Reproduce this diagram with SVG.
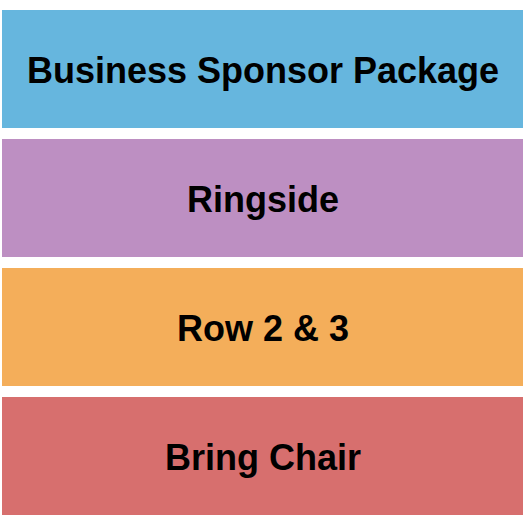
<svg xmlns="http://www.w3.org/2000/svg" width="525" height="525" viewBox="0 0 525 525">
<style>
.lbl{font-family:"Liberation Sans",Arial,sans-serif;font-weight:bold;font-size:36px;fill:#000;text-anchor:middle}
</style>
<rect width="525" height="525" fill="#fff"/>
<g id="business-sponsor-package">
<rect x="2" y="10" width="521" height="118" fill="#66B6DE"/>
<text class="lbl" x="263" y="83">Business Sponsor Package</text>
</g>
<g id="ringside">
<rect x="2" y="139" width="521" height="118" fill="#BD8FC2"/>
<text class="lbl" x="263" y="212">Ringside</text>
</g>
<g id="row-2-3">
<rect x="2" y="268" width="521" height="118" fill="#F4AE5A"/>
<text class="lbl" x="263" y="341">Row 2 &amp; 3</text>
</g>
<g id="bring-chair">
<rect x="2" y="397" width="521" height="118" fill="#D76F6E"/>
<text class="lbl" x="263" y="470">Bring Chair</text>
</g>
<g id="connectors"/>
</svg>
